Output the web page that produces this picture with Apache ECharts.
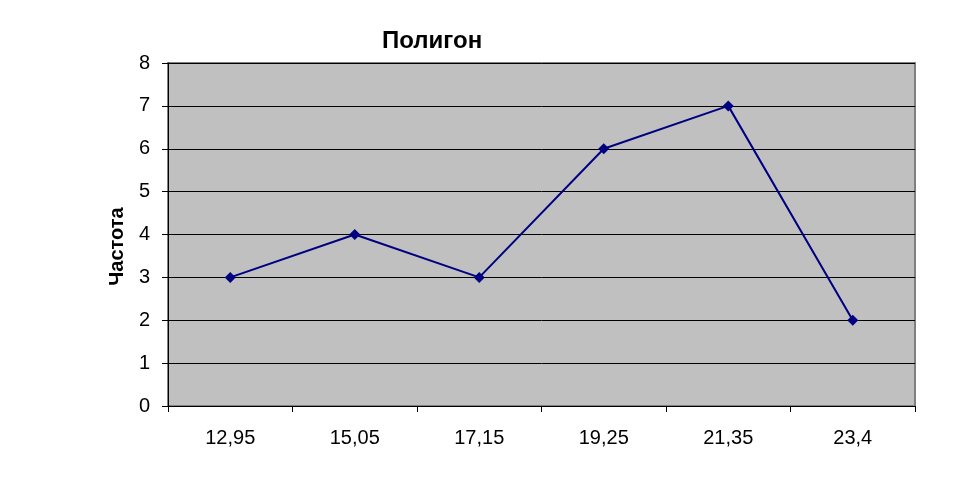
<!DOCTYPE html>
<html><head><meta charset="utf-8">
<script src="https://cdn.jsdelivr.net/npm/echarts@6/dist/echarts.min.js"></script>
<style>html,body{margin:0;padding:0;background:#fff}#c{width:957px;height:494px}</style>
</head><body><div id="c"></div>
<script>
const categories = ['12,95','15,05','17,15','19,25','21,35','23,4'];
const frequency = [3,4,3,6,7,2];
const yTicks = {min:0,max:8,interval:1};
const chart = echarts.init(document.getElementById('c'), null, {renderer:'canvas'});
chart.setOption({
  animation:false,
  backgroundColor:'#ffffff',
  title:{text:'Полигон', left:377, top:24, textStyle:{fontFamily:'Liberation Sans, Arial', fontSize:24, fontWeight:'bold', color:'#000'}},
  grid:{left:168, top:63, right:42, bottom:88, show:true, backgroundColor:'#c0c0c0', borderColor:'#808080', borderWidth:2},
  xAxis:{type:'category', data:categories, boundaryGap:true,
    axisLine:{lineStyle:{color:'#000', width:1}},
    axisTick:{show:true, length:6, lineStyle:{color:'#000'}, alignWithLabel:false},
    axisLabel:{color:'#000', fontFamily:'Liberation Sans, Arial', fontSize:20, margin:22},
    splitLine:{show:false}},
  yAxis:{type:'value', min:yTicks.min, max:yTicks.max, interval:yTicks.interval,
    name:'Частота', nameLocation:'middle', nameGap:41, nameRotate:90,
    nameTextStyle:{color:'#000', fontFamily:'Liberation Sans, Arial', fontSize:20, fontWeight:'bold', padding:[0,24,0,0]},
    axisLine:{show:true, lineStyle:{color:'#000', width:1}},
    axisTick:{show:true, length:6, lineStyle:{color:'#000'}},
    axisLabel:{color:'#000', fontFamily:'Liberation Sans, Arial', fontSize:20, margin:18},
    splitLine:{show:true, lineStyle:{color:'#000', width:1}}},
  series:[{type:'line', data:frequency, symbol:'diamond', symbolSize:11,
    lineStyle:{color:'#000080', width:2}, itemStyle:{color:'#000080'}}]
});
</script></body></html>
